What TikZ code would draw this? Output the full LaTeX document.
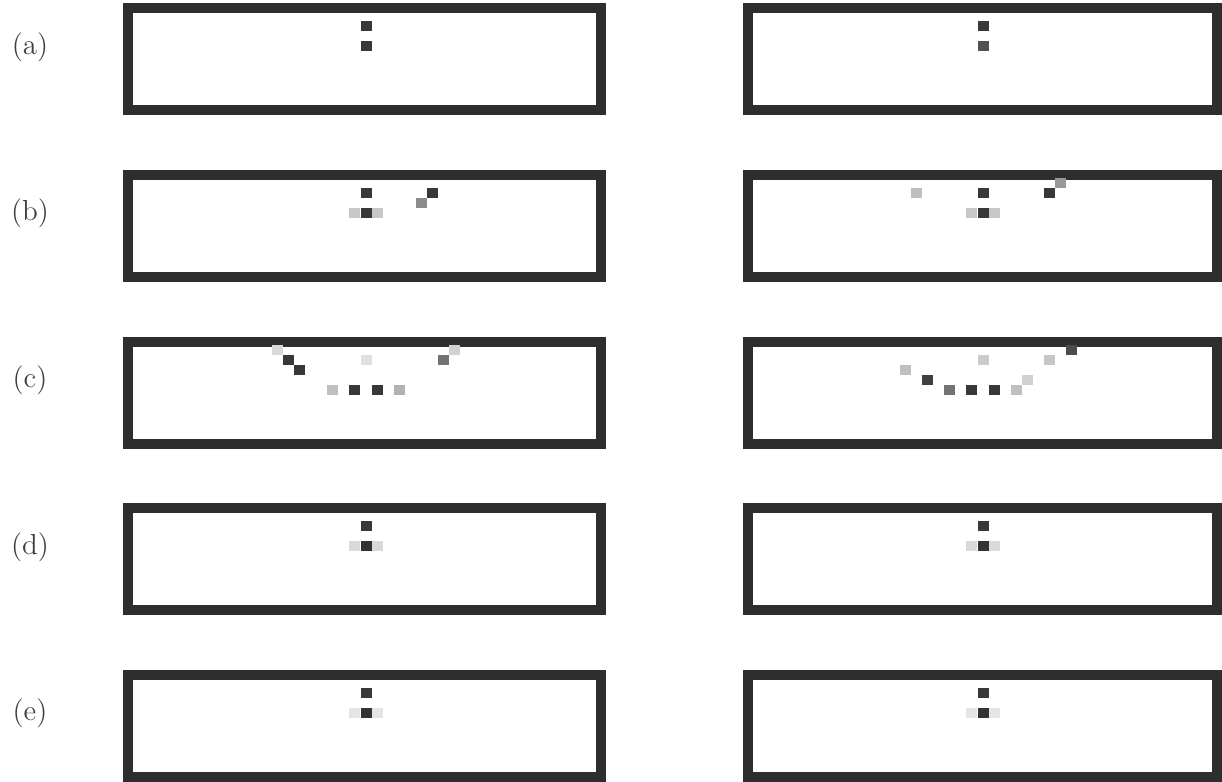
\documentclass[tikz,border=0pt]{standalone}

\newcommand\cellrow[3]{% column-0 centre x, panel top, list col/row/shade
  \begin{scope}[shift={(#1,#2)}]
    \foreach \c/\r/\g in {#3}
      \fill[black!\g] ({11.1*\c-5.5},{8+10*\r}) rectangle +(11,9.5);
  \end{scope}}

\begin{document}
\begin{tikzpicture}[x=0.5pt,y=-0.5pt,
  frame/.style={draw=black!82, line width=5pt},
  tag/.style={font=\fontsize{14.5}{17}\selectfont, text=black!75}]
\useasboundingbox (0,0) rectangle (1222,782);
% frames
\foreach \T in {3,170,337,503,670} {
  \draw[frame] (128,\T+5) rectangle (601,\T+107);
  \draw[frame] (748,\T+5) rectangle (1217,\T+107);
}
% labels
\node[tag] (lab-a) at (30,47) {(a)};
\node[tag] (lab-b) at (30,213) {(b)};
\node[tag] (lab-c) at (30,380) {(c)};
\node[tag] (lab-d) at (30,547) {(d)};
\node[tag] (lab-e) at (30,713) {(e)};
% (a)
\cellrow{366}{3}{0/1/78, 0/3/78}
\cellrow{983}{3}{0/1/78, 0/3/68}
% (b)
\cellrow{366}{170}{0/1/78, 6/1/78, 5/2/45, -1/3/22, 0/3/78, 1/3/22}
\cellrow{983}{170}{7/0/40, -6/1/25, 0/1/78, 6/1/78, -1/3/22, 0/3/78, 1/3/22}
% (c)
\cellrow{366}{337}{-8/0/15, -7/1/78, -6/2/78, 0/1/12, 7/1/55, 8/0/18,
  -3/4/25, -1/4/78, 1/4/78, 3/4/30}
\cellrow{983}{337}{8/0/70, 0/1/20, 6/1/22, -7/2/25, -5/3/75, 4/3/18,
  -3/4/55, -1/4/78, 1/4/78, 3/4/25}
% (d)
\cellrow{366}{503}{0/1/78, -1/3/15, 0/3/80, 1/3/15}
\cellrow{983}{503}{0/1/78, -1/3/15, 0/3/80, 1/3/15}
% (e)
\cellrow{366}{670}{0/1/78, -1/3/10, 0/3/80, 1/3/10}
\cellrow{983}{670}{0/1/78, -1/3/10, 0/3/80, 1/3/10}
\end{tikzpicture}
\end{document}
